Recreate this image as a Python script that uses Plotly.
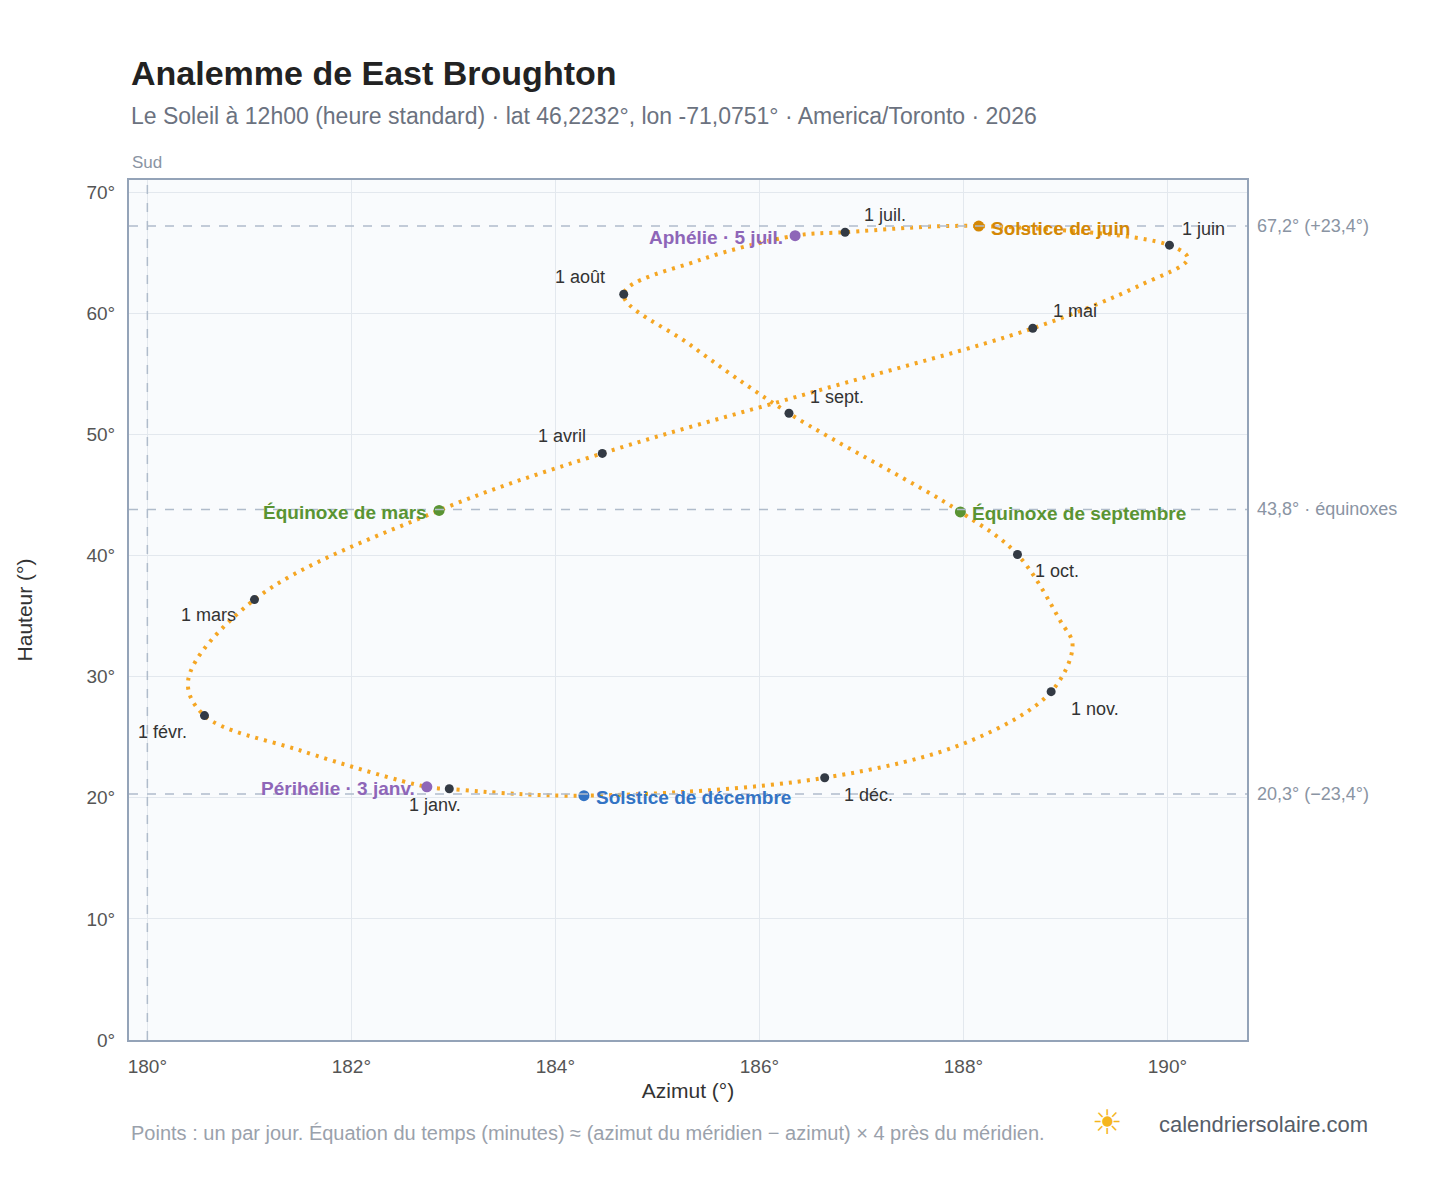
import plotly.graph_objects as go

# path through the year (date order)
path_az = [182.96, 182.74, 181.5, 180.56, 180.40, 181.05, 182.86, 184.46, 186.57, 188.68,
           189.73, 190.2, 190.02, 188.15, 186.84, 186.35, 185.42, 184.67, 185.32, 186.29,
           187.97, 188.53, 188.95, 189.07, 188.86, 188.07, 186.64, 184.28, 183.0]
path_alt = [20.74, 20.9, 23.9, 26.78, 29.7, 36.36, 43.72, 48.43, 53.6, 58.76,
            62.3, 64.5, 65.62, 67.2, 66.69, 66.4, 64.4, 61.57, 57.4, 51.74,
            43.6, 40.08, 34.6, 32.6, 28.76, 24.7, 21.65, 20.17, 20.7]

months = ["1 janv.", "1 févr.", "1 mars", "1 avril", "1 mai", "1 juin",
          "1 juil.", "1 août", "1 sept.", "1 oct.", "1 nov.", "1 déc."]
month_az = [182.96, 180.56, 181.05, 184.46, 188.68, 190.02, 186.84, 184.67, 186.29, 188.53, 188.86, 186.64]
month_alt = [20.74, 26.78, 36.36, 48.43, 58.76, 65.62, 66.69, 61.57, 51.74, 40.08, 28.76, 21.65]
# label offsets in pixels (ax, ay)
month_off = [(-14, 16), (-42, 16), (-46, 15), (-40, -17), (42, -17), (34, -16),
             (40, -17), (-44, -17), (48, -16), (40, 16), (44, 17), (44, 17)]

events = ["Solstice de juin", "Solstice de décembre", "Équinoxe de mars",
          "Équinoxe de septembre", "Périhélie · 3 janv.", "Aphélie · 5 juil."]
event_az = [188.15, 184.28, 182.86, 187.97, 182.74, 186.35]
event_alt = [67.2, 20.17, 43.72, 43.6, 20.9, 66.4]
event_col = ["#d48806", "#3373c4", "#5a9433", "#5a9433", "#8e66b8", "#8e66b8"]
event_side = ["right", "right", "left", "right", "left", "left"]

ref_alt = [67.2, 43.8, 20.3]
ref_txt = ["67,2° (+23,4°)", "43,8° · équinoxes", "20,3° (−23,4°)"]

fig = go.Figure()
fig.add_trace(go.Scatter(x=path_az, y=path_alt, mode="lines",
                         line=dict(color="#f5a623", width=4, dash="3px,6px", shape="spline", smoothing=1.0),
                         hoverinfo="skip"))
fig.add_trace(go.Scatter(x=month_az, y=month_alt, mode="markers",
                         marker=dict(color="#333a44", size=9)))
fig.add_trace(go.Scatter(x=event_az, y=event_alt, mode="markers",
                         marker=dict(color=event_col, size=11)))

for t, x, y, (ax, ay) in zip(months, month_az, month_alt, month_off):
    fig.add_annotation(x=x, y=y, text=t, showarrow=True, arrowcolor="rgba(0,0,0,0)",
                       ax=ax, ay=ay, font=dict(size=18, color="#333"))
for t, x, y, c, s in zip(events, event_az, event_alt, event_col, event_side):
    fig.add_annotation(x=x, y=y, text="<b>%s</b>" % t, showarrow=False,
                       xanchor="left" if s == "right" else "right",
                       xshift=10 if s == "right" else -10, yshift=-2,
                       font=dict(size=19, color=c))

for y, t in zip(ref_alt, ref_txt):
    fig.add_hline(y=y, line=dict(color="#b0bccb", width=1.5, dash="dash"))
    fig.add_annotation(x=1, xref="paper", y=y, text=t, showarrow=False, xanchor="left",
                       xshift=8, font=dict(size=18, color="#8a94a3"))
fig.add_vline(x=180, line=dict(color="#b0bccb", width=1.5, dash="dash"))
fig.add_annotation(x=180, y=1, yref="paper", text="Sud", showarrow=False, yanchor="bottom",
                   xanchor="center", yshift=6, font=dict(size=17, color="#8a94a3"))

fig.add_annotation(x=0, xref="paper", y=1.125, yref="paper", text="<b>Analemme de East Broughton</b>",
                   showarrow=False, xanchor="left", yanchor="middle", font=dict(size=34, color="#222"))
fig.add_annotation(x=0, xref="paper", y=1.075, yref="paper",
                   text="Le Soleil à 12h00 (heure standard) · lat 46,2232°, lon -71,0751° · America/Toronto · 2026",
                   showarrow=False, xanchor="left", yanchor="middle", font=dict(size=23, color="#6b7280"))
fig.add_annotation(x=0, xref="paper", y=-0.108, yref="paper",
                   text="Points : un par jour. Équation du temps (minutes) ≈ (azimut du méridien − azimut) × 4 près du méridien.",
                   showarrow=False, xanchor="left", yanchor="middle", font=dict(size=20, color="#9aa1ab"))
fig.add_annotation(x=1.11, xref="paper", y=-0.098, yref="paper", text="calendriersolaire.com",
                   showarrow=False, xanchor="right", yanchor="middle", font=dict(size=22, color="#555d68"))
fig.add_annotation(x=0.89, xref="paper", y=-0.095, yref="paper", text="☀", showarrow=False,
                   yanchor="middle", font=dict(size=34, color="#f5b51e"))

axis = dict(showline=True, linecolor="#94a3b8", linewidth=2, mirror=True, gridcolor="#e3e8ee",
            zeroline=False, ticks="", tickfont=dict(size=19, color="#555"), ticksuffix="°",
            ticklabelstandoff=8)
fig.update_layout(
    width=1448, height=1188, showlegend=False,
    margin=dict(l=121, r=209, t=172, b=156),
    paper_bgcolor="white", plot_bgcolor="#f9fbfd",
    font=dict(family="Liberation Sans, Arial, sans-serif"),
    xaxis=dict(axis, range=[179.82, 190.78], dtick=2,
               title=dict(text="Azimut (°)", font=dict(size=21, color="#333"), standoff=8)),
    yaxis=dict(axis, range=[0, 71], dtick=10,
               title=dict(text="Hauteur (°)", font=dict(size=21, color="#333"), standoff=48)),
)
fig.write_html("out.html")
